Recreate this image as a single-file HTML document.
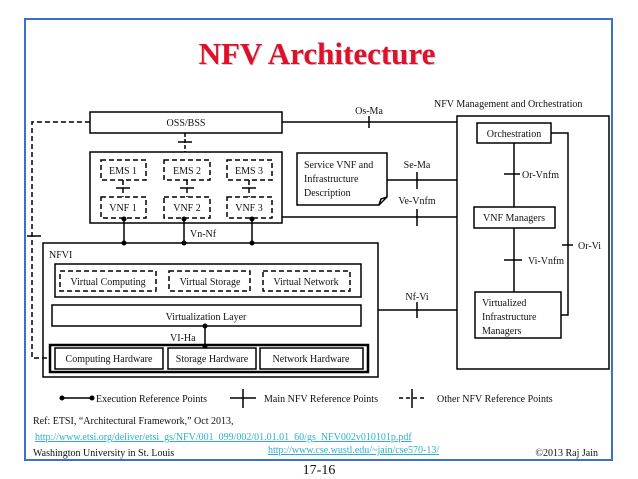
<!DOCTYPE html>
<html><head><meta charset="utf-8"><style>
body{margin:0;background:#fff;}
svg{display:block;font-family:"Liberation Serif",serif;}
</style></head><body>
<svg width="638" height="479" viewBox="0 0 638 479" xmlns="http://www.w3.org/2000/svg">
<rect x="25" y="19" width="587" height="441" fill="none" stroke="#3b6fd0" stroke-width="2"/>
<text x="318" y="65" text-anchor="middle" font-size="31" font-weight="bold" fill="#999" opacity="0.5">NFV Architecture</text>
<text x="317" y="64" text-anchor="middle" font-size="31" font-weight="bold" fill="#e0102a">NFV Architecture</text>
<g fill="none" stroke="#000" stroke-width="1.5">
<rect x="90" y="112" width="192" height="21"/>
<polyline points="90,122 32,122 32,358 50,358" stroke-dasharray="5,3"/>
<line x1="27" y1="236" x2="41" y2="236"/>
<line x1="185" y1="133" x2="185" y2="152" stroke-dasharray="4,2"/>
<line x1="178" y1="142" x2="192" y2="142"/>
<rect x="90" y="152" width="192" height="71"/>
<g stroke-dasharray="5,3">
<rect x="101" y="160" width="45" height="20"/><rect x="164" y="160" width="46" height="20"/><rect x="227" y="160" width="45" height="20"/>
<rect x="101" y="197" width="45" height="21"/><rect x="164" y="197" width="46" height="21"/><rect x="227" y="197" width="45" height="21"/>
<line x1="123" y1="180" x2="123" y2="197"/><line x1="187" y1="180" x2="187" y2="197"/><line x1="249" y1="180" x2="249" y2="197"/>
</g>
<line x1="116" y1="188" x2="130" y2="188"/><line x1="180" y1="188" x2="194" y2="188"/><line x1="242" y1="188" x2="256" y2="188"/>
<line x1="124" y1="219" x2="124" y2="243"/><line x1="184" y1="219" x2="184" y2="243"/><line x1="252" y1="219" x2="252" y2="243"/>
<rect x="43" y="243" width="335" height="134"/>
<rect x="55" y="264" width="306" height="33"/>
<g stroke-dasharray="5,3">
<rect x="60" y="271" width="96" height="20"/><rect x="169" y="271" width="81" height="20"/><rect x="263" y="271" width="87" height="20"/>
</g>
<rect x="52" y="305" width="309" height="21"/>
<line x1="205" y1="326" x2="205" y2="346"/>
<rect x="50" y="345" width="318" height="27" stroke-width="2.5"/>
<rect x="55" y="348" width="108" height="21"/><rect x="168" y="348" width="88" height="21"/><rect x="260" y="348" width="103" height="21"/>
<line x1="282" y1="122" x2="457" y2="122"/><line x1="369" y1="116" x2="369" y2="128"/>
<rect x="457" y="116" width="152" height="253"/>
<rect x="477" y="123" width="74" height="20"/>
<path d="M297,153 H387 V197 L379,205 H297 Z"/><path d="M379,205 L381,199 L387,197"/>
<line x1="387" y1="180" x2="457" y2="180"/><line x1="417" y1="172" x2="417" y2="189"/>
<line x1="282" y1="217" x2="457" y2="217"/><line x1="417" y1="209" x2="417" y2="226"/>
<rect x="474" y="207" width="81" height="21"/>
<line x1="514" y1="143" x2="514" y2="207"/><line x1="504" y1="174" x2="520" y2="174"/>
<rect x="475" y="292" width="86" height="46"/>
<line x1="514" y1="228" x2="514" y2="292"/><line x1="504" y1="260" x2="522" y2="260"/>
<polyline points="551,133 568,133 568,315 561,315"/><line x1="562" y1="245" x2="573" y2="245"/>
<line x1="378" y1="310" x2="457" y2="310"/><line x1="417" y1="302" x2="417" y2="318"/>
<line x1="62" y1="398" x2="92" y2="398"/>
<line x1="230" y1="398" x2="256" y2="398"/><line x1="243" y1="389" x2="243" y2="408"/>
<line x1="399" y1="398" x2="426" y2="398" stroke-dasharray="4,3"/><line x1="412" y1="389" x2="412" y2="408"/>
</g>
<g fill="#000">
<circle cx="124" cy="219" r="2.5"/><circle cx="184" cy="219" r="2.5"/><circle cx="252" cy="219" r="2.5"/>
<circle cx="124" cy="243" r="2.5"/><circle cx="184" cy="243" r="2.5"/><circle cx="252" cy="243" r="2.5"/>
<circle cx="205" cy="326" r="2.5"/><circle cx="205" cy="346" r="2.5"/>
<circle cx="62" cy="398" r="2.5"/><circle cx="92" cy="398" r="2.5"/>
</g>
<g font-size="10" fill="#111">
<text x="186" y="126" text-anchor="middle">OSS/BSS</text>
<text x="123" y="174" text-anchor="middle">EMS 1</text><text x="187" y="174" text-anchor="middle">EMS 2</text><text x="249" y="174" text-anchor="middle">EMS 3</text>
<text x="123" y="211" text-anchor="middle">VNF 1</text><text x="187" y="211" text-anchor="middle">VNF 2</text><text x="249" y="211" text-anchor="middle">VNF 3</text>
<text x="190" y="237">Vn-Nf</text>
<text x="49" y="258">NFVI</text>
<text x="108" y="285" text-anchor="middle">Virtual Computing</text>
<text x="210" y="285" text-anchor="middle">Virtual Storage</text>
<text x="306" y="285" text-anchor="middle">Virtual Network</text>
<text x="206" y="320" text-anchor="middle">Virtualization Layer</text>
<text x="170" y="341">VI-Ha</text>
<text x="109" y="362" text-anchor="middle">Computing Hardware</text>
<text x="212" y="362" text-anchor="middle">Storage Hardware</text>
<text x="311" y="362" text-anchor="middle">Network Hardware</text>
<text x="369" y="114" text-anchor="middle">Os-Ma</text>
<text x="434" y="107">NFV Management and Orchestration</text>
<text x="514" y="137" text-anchor="middle">Orchestration</text>
<text x="304" y="168">Service VNF and</text><text x="304" y="182">Infrastructure</text><text x="304" y="196">Description</text>
<text x="417" y="168" text-anchor="middle">Se-Ma</text>
<text x="417" y="204" text-anchor="middle">Ve-Vnfm</text>
<text x="514" y="221" text-anchor="middle">VNF Managers</text>
<text x="522" y="178">Or-Vnfm</text>
<text x="528" y="264">Vi-Vnfm</text>
<text x="578" y="249">Or-Vi</text>
<text x="417" y="300" text-anchor="middle">Nf-Vi</text>
<text x="482" y="306">Virtualized</text><text x="482" y="320">Infrastructure</text><text x="482" y="334">Managers</text>
<text x="96" y="402">Execution Reference Points</text>
<text x="264" y="402">Main NFV Reference Points</text>
<text x="437" y="402">Other  NFV Reference Points</text>
<text x="33" y="424">Ref: ETSI, “Architectural Framework,” Oct 2013,</text>
<text x="35" y="440" fill="#2fb0c8" text-decoration="underline">http://www.etsi.org/deliver/etsi_gs/NFV/001_099/002/01.01.01_60/gs_NFV002v010101p.pdf</text>
<text x="33" y="456">Washington University in St. Louis</text>
<text x="268" y="453" fill="#2fb0c8" text-decoration="underline">http://www.cse.wustl.edu/~jain/cse570-13/</text>
<text x="598" y="456" text-anchor="end">©2013 Raj Jain</text>
</g>
<text x="319" y="474" text-anchor="middle" font-size="14" fill="#111">17-16</text>
</svg>
</body></html>
